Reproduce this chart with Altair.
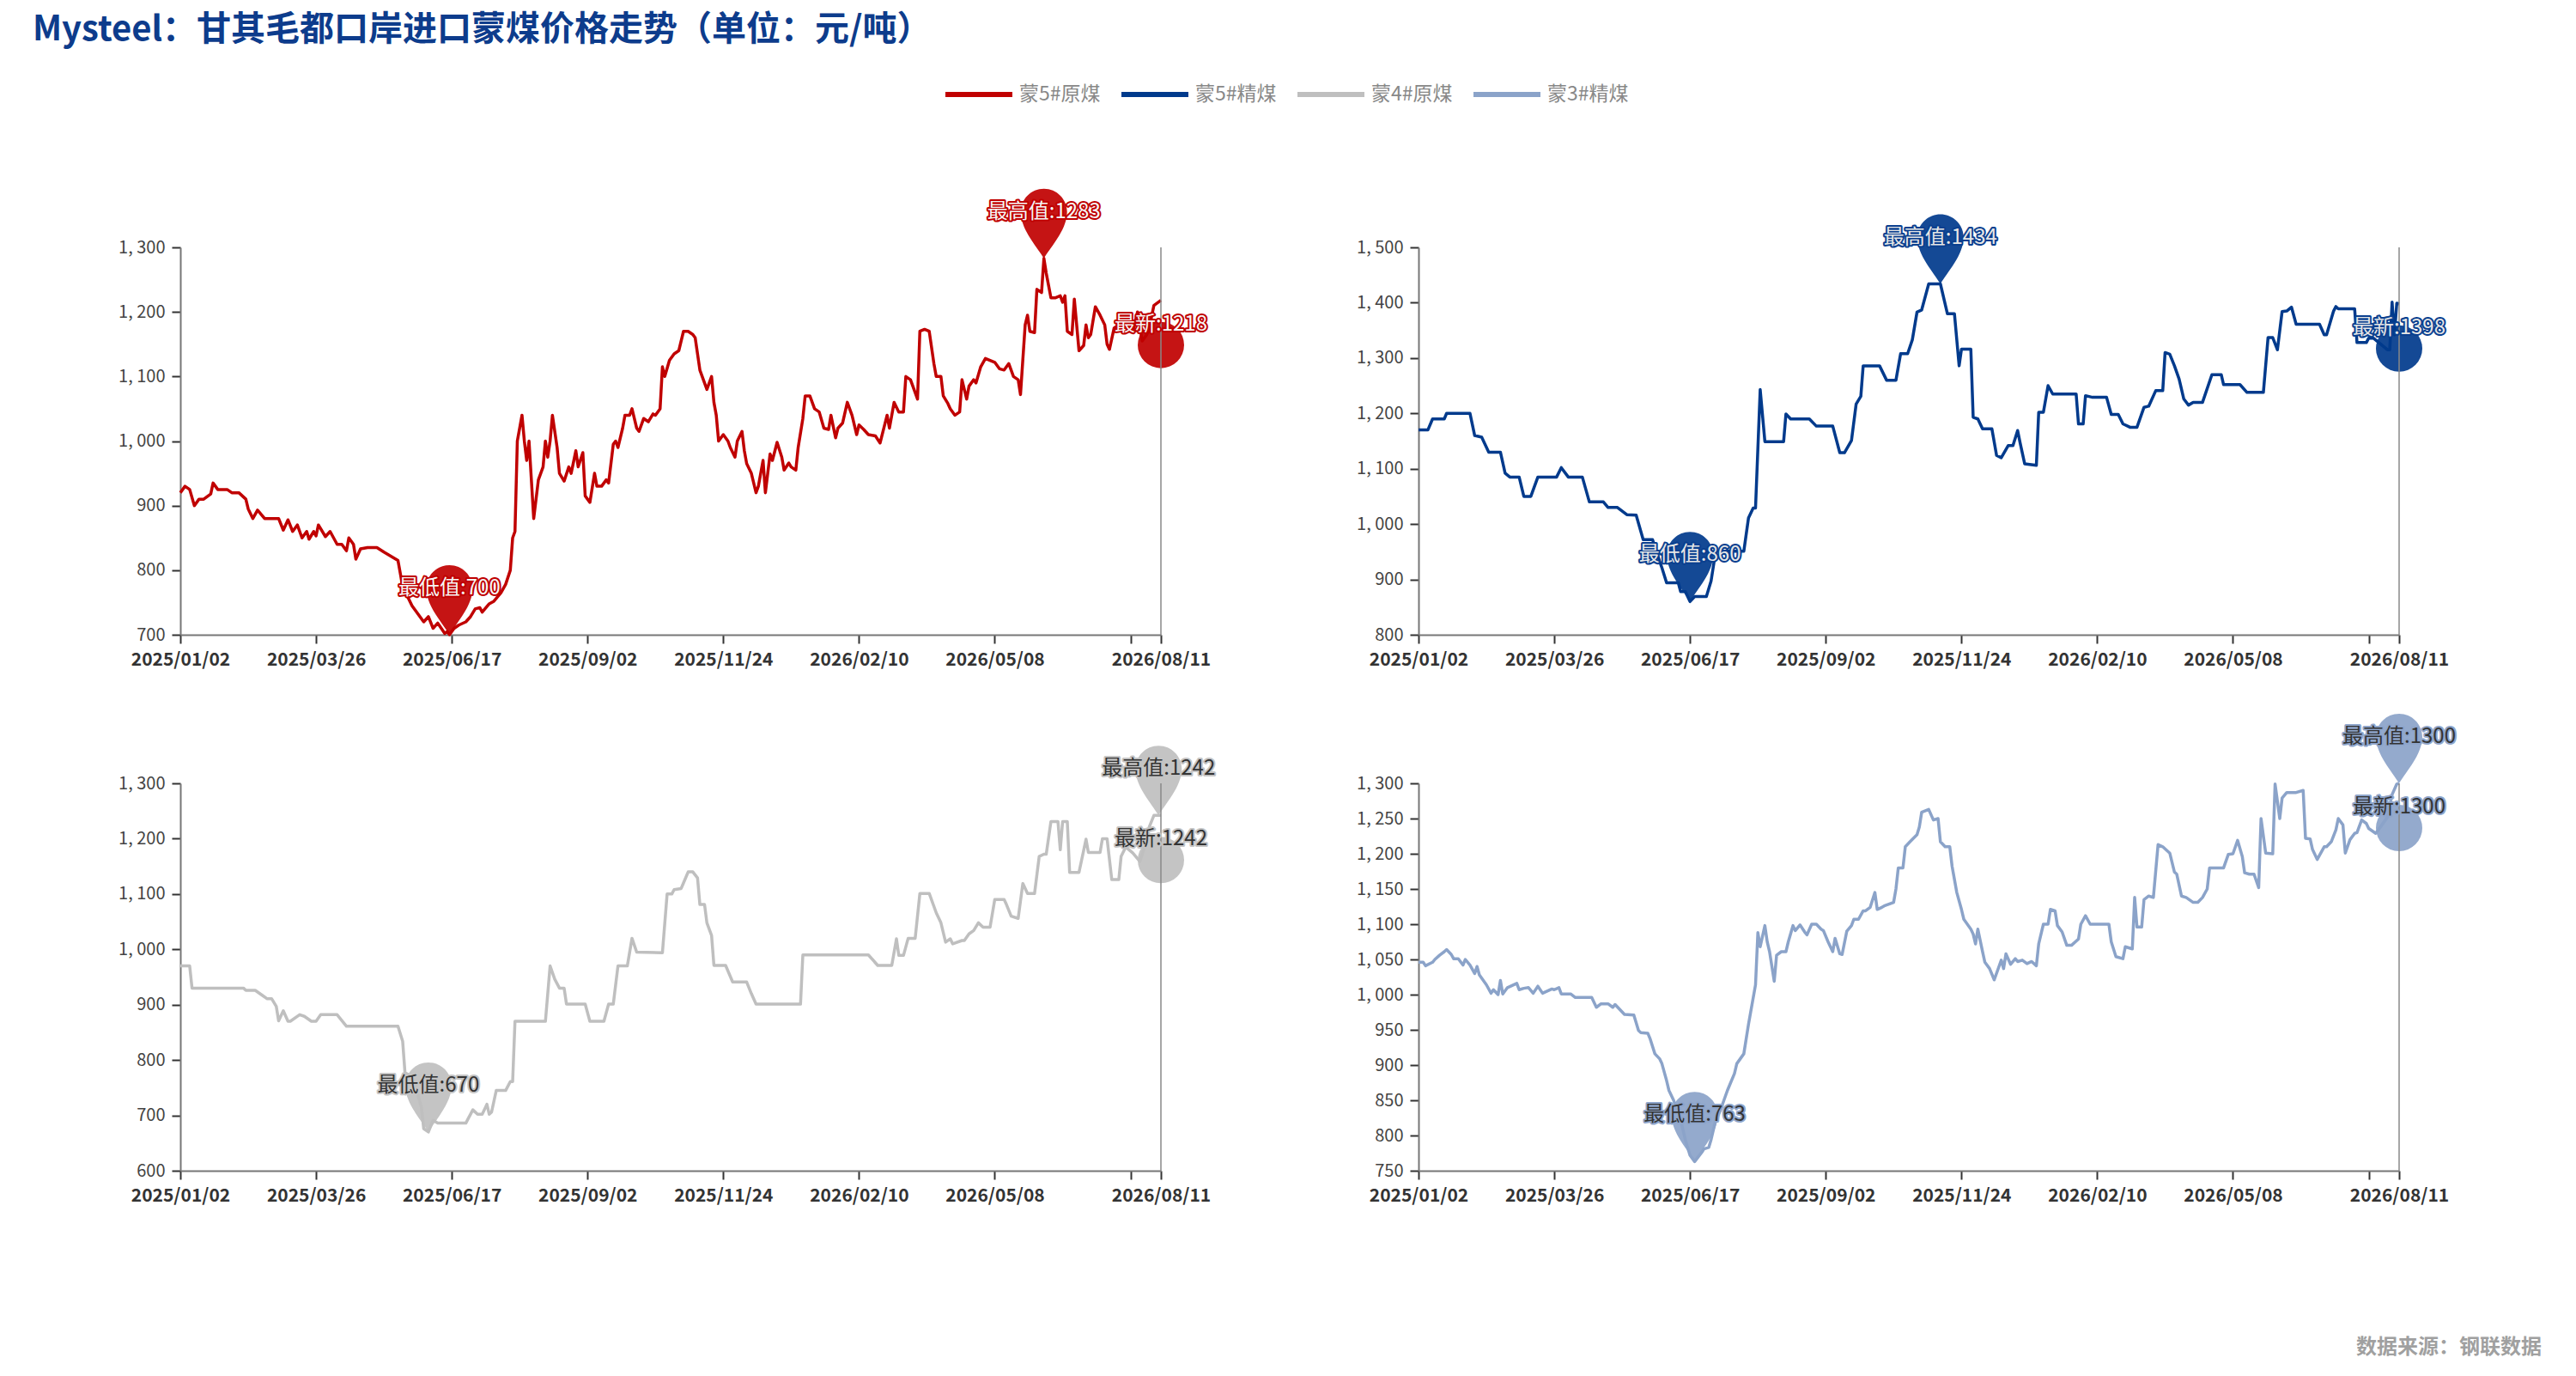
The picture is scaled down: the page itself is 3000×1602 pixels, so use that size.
import altair as alt
import pandas as pd

FONT = "Noto Sans CJK SC"

TITLE = "Mysteel：甘其毛都口岸进口蒙煤价格走势（单位：元/吨）"
FOOTER = "数据来源：钢联数据"

SERIES = ["蒙5#原煤", "蒙5#精煤", "蒙4#原煤", "蒙3#精煤"]
COLORS = ["#C00000", "#003A8C", "#BFBFBF", "#8BA3C9"]

X_END = 419
XTICK_IDX = [0, 58, 116, 174, 232, 290, 348, 406, 419]
XTICK_LABELS = ["2025/01/02", "2025/03/26", "2025/06/17", "2025/09/02", "2025/11/24",
                "2026/02/10", "2026/05/08", "", "2026/08/11"]

# (trading-day index, price)
P1 = [(0,920),(2,930),(4,925),(6,900),(8,910),(10,910),(13,918),(14,935),(16,925),(20,925),(22,920),(25,920),
      (28,910),(29,895),(31,880),(33,893),(36,880),(42,880),(44,862),(46,878),(48,860),(50,870),(52,850),(54,860),
      (55,848),(57,860),(58,853),(59,870),(62,852),(64,860),(67,840),(69,840),(71,830),(72,850),(74,840),(75,817),
      (77,833),(80,835),(84,835),(87,828),(93,815),(95,775),(97,760),(99,745),(101,735),(104,720),(106,728),(108,710),
      (110,718),(113,702),(114,705),(115,700),(117,710),(119,715),(122,720),(124,728),(126,740),(128,742),(129,735),
      (132,748),(134,752),(137,765),(139,778),(141,800),(142,850),(143,860),(144,1000),(146,1040),(147,1000),(148,970),
      (149,1000),(151,880),(153,940),(155,960),(156,1000),(157,975),(158,1000),(159,1040),(161,990),(162,950),(164,938),
      (166,960),(167,950),(169,985),(170,960),(172,982),(173,915),(175,905),(177,950),(178,930),(180,930),(182,940),
      (183,935),(185,995),(186,1000),(187,990),(189,1020),(190,1040),(192,1040),(193,1050),(195,1020),(196,1015),
      (198,1035),(200,1030),(202,1042),(203,1040),(205,1050),(206,1115),(207,1100),(209,1125),(211,1135),(213,1140),
      (215,1170),(217,1170),(219,1165),(220,1160),(222,1110),(224,1090),(225,1080),(227,1100),(228,1060),(229,1040),
      (230,1000),(232,1010),(234,1000),(235,990),(237,975),(238,1000),(240,1015),(241,985),(242,965),(244,950),
      (246,920),(247,930),(249,970),(250,920),(252,980),(253,970),(255,998),(257,975),(258,955),(260,966),(261,960),
      (263,955),(264,990),(266,1035),(267,1070),(269,1070),(271,1050),(273,1045),(275,1020),(277,1018),(278,1040),
      (280,1005),(281,1020),(283,1028),(285,1060),(287,1040),(289,1010),(290,1025),(292,1018),(294,1010),(297,1008),
      (299,997),(302,1040),(303,1020),(305,1060),(307,1045),(309,1045),(310,1100),(312,1095),(315,1065),(316,1170),
      (318,1173),(320,1170),(322,1120),(323,1100),(325,1100),(326,1070),(328,1058),(329,1050),(331,1040),(333,1045),
      (334,1095),(336,1065),(337,1085),(339,1095),(340,1090),(342,1115),(344,1128),(346,1125),(348,1122),(350,1112),
      (352,1110),(354,1120),(356,1100),(358,1095),(359,1072),(361,1180),(362,1195),(363,1170),(365,1168),(366,1235),
      (368,1230),(369,1283),(370,1260),(372,1222),(374,1222),(376,1225),(377,1215),(378,1225),(379,1170),(381,1165),
      (382,1220),(384,1140),(386,1148),(387,1180),(388,1160),(389,1165),(391,1208),(393,1195),(395,1180),(396,1150),
      (397,1142),(399,1175),(401,1180),(403,1190),(405,1195),(407,1170),(409,1200),(411,1155),(413,1165),(414,1175),
      (416,1210),(419,1218)]

P2 = [(0,1170),(4,1170),(6,1190),(11,1190),(12,1200),(22,1200),(24,1160),(27,1157),(30,1130),(35,1130),(37,1092),
      (39,1085),(43,1085),(45,1050),(48,1050),(51,1085),(59,1085),(61,1102),(64,1085),(70,1085),(73,1040),(79,1040),
      (81,1030),(85,1030),(89,1017),(93,1016),(96,972),(100,972),(103,933),(104,921),(106,894),(111,894),(112,878),
      (114,878),(116,860),(118,869),(123,869),(125,897),(127,951),(139,951),(141,1011),(143,1029),(144,1029),(146,1243),
      (148,1149),(156,1149),(157,1199),(159,1190),(167,1190),(170,1177),(177,1177),(180,1129),(182,1129),(185,1151),
      (187,1217),(189,1231),(190,1286),(197,1286),(200,1260),(204,1260),(206,1308),(209,1308),(211,1333),(213,1383),
      (215,1387),(218,1434),(223,1434),(226,1380),(229,1380),(231,1286),(232,1316),(236,1316),(237,1193),(239,1190),
      (241,1172),(245,1172),(247,1124),(249,1120),(252,1142),(254,1142),(256,1169),(257,1148),(259,1109),(264,1106),
      (265,1202),(267,1202),(269,1250),(271,1235),(281,1235),(282,1181),(284,1181),(285,1232),(288,1229),(294,1229),
      (296,1198),(299,1198),(301,1181),(304,1175),(307,1175),(310,1211),(312,1213),(315,1241),(318,1241),(319,1310),
      (321,1307),(323,1286),(325,1262),(327,1226),(329,1215),(331,1220),(335,1220),(339,1270),(343,1270),(344,1252),
      (351,1252),(354,1238),(361,1238),(363,1337),(365,1337),(367,1315),(369,1384),(371,1385),(373,1392),(375,1361),
      (385,1361),(387,1342),(388,1342),(391,1385),(392,1393),(393,1389),(400,1389),(401,1328),(405,1328),(406,1336),
      (408,1336),(414,1315),(415,1315),(416,1401),(417,1342),(418,1399),(419,1398)]

P3 = [(0,970),(4,970),(5,930),(27,930),(28,926),(32,926),(35,917),(37,911),(39,911),(41,897),(42,871),(44,889),
      (46,870),(47,870),(51,882),(53,879),(56,870),(58,870),(60,882),(67,882),(71,861),(93,861),(95,834),(96,777),
      (97,775),(100,760),(103,715),(104,676),(106,670),(108,691),(110,686),(122,686),(123,694),(125,710),(127,702),
      (129,702),(131,720),(132,702),(133,706),(135,745),(139,745),(141,761),(142,761),(143,870),(156,870),(158,970),
      (160,946),(162,930),(164,930),(165,901),(173,901),(175,870),(181,870),(183,901),(185,901),(187,970),(191,970),
      (193,1020),(195,995),(206,994),(208,1100),(210,1100),(211,1108),(214,1110),(215,1120),(217,1140),(219,1140),
      (221,1129),(222,1081),(224,1081),(225,1048),(227,1025),(228,971),(233,971),(236,941),(242,941),(244,920),
      (246,901),(265,901),(266,990),(294,990),(298,971),(304,971),(306,1019),(307,989),(309,989),(311,1020),(314,1020),
      (316,1101),(320,1101),(323,1066),(325,1048),(327,1013),(329,1019),(330,1010),(334,1016),(335,1016),(337,1028),
      (339,1034),(341,1048),(343,1040),(346,1040),(348,1090),(352,1090),(353,1081),(355,1060),(358,1056),(360,1119),
      (362,1101),(365,1101),(367,1168),(369,1172),(370,1172),(372,1231),(375,1231),(376,1180),(377,1231),(379,1231),
      (380,1139),(384,1139),(387,1199),(388,1175),(393,1175),(394,1200),(396,1200),(398,1126),(401,1126),(402,1168),
      (404,1185),(407,1174),(410,1159),(412,1185),(414,1221),(416,1242),(419,1242)]

P4 = [(0,1046),(2,1046),(3,1041),(6,1046),(7,1050),(9,1056),(11,1061),(12,1064),(14,1057),(15,1051),(17,1051),
      (19,1042),(20,1050),(22,1042),(24,1030),(25,1040),(26,1028),(29,1014),(31,1002),(32,1007),(34,1000),(35,1020),
      (36,1001),(38,1010),(40,1013),(42,1016),(43,1007),(45,1009),(47,1010),(49,1002),(51,1012),(53,1002),(57,1008),
      (58,1007),(60,1010),(61,1001),(65,1001),(67,996),(74,996),(76,982),(78,987),(81,987),(83,982),(84,986),(86,979),
      (88,972),(92,971),(94,949),(95,946),(98,945),(99,937),(101,916),(103,909),(104,902),(106,878),(107,864),
      (109,850),(112,822),(114,794),(116,772),(118,763),(121,776),(122,781),(124,783),(125,794),(127,822),(129,836),
      (132,864),(135,888),(136,902),(139,916),(141,958),(144,1014),(145,1088),(146,1068),(148,1098),(149,1075),
      (150,1061),(152,1019),(153,1056),(155,1061),(157,1061),(158,1075),(160,1098),(161,1091),(163,1099),(165,1089),
      (166,1085),(168,1100),(170,1100),(172,1093),(173,1091),(175,1075),(177,1061),(178,1080),(180,1058),(181,1057),
      (183,1090),(185,1098),(186,1107),(188,1107),(190,1119),(191,1119),(193,1124),(195,1145),(196,1121),(198,1124),
      (199,1126),(203,1131),(204,1150),(205,1180),(207,1180),(208,1210),(210,1217),(213,1227),(214,1238),(215,1259),
      (218,1263),(220,1248),(222,1250),(223,1217),(225,1210),(227,1210),(228,1182),(230,1145),(232,1121),(233,1107),
      (236,1093),(237,1086),(238,1072),(239,1093),(241,1061),(242,1046),(244,1037),(246,1021),(249,1049),(250,1037),
      (251,1058),(253,1043),(255,1051),(256,1047),(258,1049),(260,1044),(262,1047),(264,1041),(265,1072),(267,1100),
      (269,1100),(270,1121),(272,1119),(273,1098),(275,1089),(277,1070),(279,1070),(282,1079),(283,1100),(285,1112),
      (287,1100),(295,1100),(296,1075),(298,1054),(301,1051),(302,1068),(305,1065),(306,1138),(307,1096),(309,1096),
      (310,1135),(312,1140),(314,1138),(316,1213),(318,1210),(321,1201),(323,1174),(324,1171),(326,1140),(328,1138),
      (331,1131),(333,1131),(335,1138),(337,1150),(338,1180),(344,1180),(346,1199),(348,1200),(350,1219),(352,1196),
      (353,1173),(355,1171),(357,1171),(359,1152),(360,1250),(362,1201),(365,1200),(366,1299),(368,1250),(369,1279),
      (371,1287),(375,1287),(378,1290),(379,1222),(381,1221),(382,1206),(384,1192),(387,1210),(388,1210),(390,1217),
      (392,1234),(393,1250),(395,1241),(396,1201),(398,1220),(400,1229),(401,1230),(403,1248),(405,1243),(406,1236),
      (409,1229),(411,1238),(414,1252),(416,1284),(418,1299),(419,1300)]

# marker points: (index, value)
P1_MIN, P1_MAX, P1_LAST = (115, 700), (369, 1283), (419, 1218)
P2_MIN, P2_MAX, P2_LAST = (116, 860), (223, 1434), (419, 1398)
P3_MIN, P3_MAX, P3_LAST = (106, 670), (418, 1242), (419, 1242)
P4_MIN, P4_MAX, P4_LAST = (118, 763), (419, 1300), (419, 1300)

Y1 = (700, 1300, 100)
Y2 = (800, 1500, 100)
Y3 = (600, 1300, 100)
Y4 = (750, 1300, 50)

PIN = "M0,0 C-0.3,-0.5 -1,-1.25 -1,-2 A1,1 0 1 1 1,-2 C1,-1.25 0.3,-0.5 0,0 Z"

W, H = 1142, 451

x_expr = "".join(f"datum.value == {v} ? '{t}' : " for v, t in zip(XTICK_IDX, XTICK_LABELS)) + "''"
y_expr = "replace(format(datum.value, ','), ',', ', ')"

color_scale = alt.Scale(domain=SERIES, range=COLORS)
legend = alt.Legend(orient="none", legendX=888, legendY=-220, direction="horizontal", title=None,
                    symbolType="stroke", symbolSize=6084, symbolStrokeWidth=6,
                    labelFont=FONT, labelFontSize=23, labelColor="#888888", labelOffset=5,
                    columnPadding=12, padding=0)


def panel(pairs, name, color, ycfg, mn, mx, last, tfill, halo):
    lo, hi, step = ycfg
    df = pd.DataFrame(pairs, columns=["idx", "val"])
    df["series"] = name
    pins = pd.DataFrame({"idx": [mn[0], mx[0]], "val": [mn[1], mx[1]],
                         "label": [f"最低值:{mn[1]}", f"最高值:{mx[1]}"]})
    lat = pd.DataFrame({"idx": [last[0]], "val": [last[1]], "label": [f"最新:{last[1]}"]})

    x = alt.X("idx:Q", scale=alt.Scale(domain=[0, X_END], nice=False, zero=False),
              axis=alt.Axis(values=XTICK_IDX, labelExpr=x_expr, title=None, grid=False,
                            labelOverlap=False, labelFlush=False))
    y = alt.Y("val:Q", scale=alt.Scale(domain=[lo, hi], nice=False, zero=False),
              axis=alt.Axis(values=list(range(lo, hi + 1, step)), labelExpr=y_expr, title=None, grid=False))

    pin_m = alt.Chart(pins).mark_point(shape=PIN, size=2916, filled=True, opacity=0.92,
                                       color=color, strokeWidth=0).encode(x=x, y=y)
    circ = alt.Chart(lat).mark_point(shape="circle", size=2916, filled=True, opacity=0.92,
                                     color=color, strokeWidth=0, yOffset=52).encode(x=x, y=y)
    line = alt.Chart(df).mark_line(strokeWidth=3.5, strokeJoin="round").encode(
        x=x, y=y, color=alt.Color("series:N", scale=color_scale, legend=legend))
    rule = alt.Chart(lat).mark_rule(color="#888888", strokeWidth=1.5).encode(x=x)
    txt = dict(font=FONT, fontSize=24, baseline="middle", align="center")
    pin_h = alt.Chart(pins).mark_text(dy=-54, fill=halo, stroke=halo, strokeWidth=4,
                                      strokeJoin="round", **txt).encode(x=x, y=y, text="label:N")
    pin_t = alt.Chart(pins).mark_text(dy=-54, fill=tfill, **txt).encode(x=x, y=y, text="label:N")
    lat_h = alt.Chart(lat).mark_text(dy=28, fill=halo, stroke=halo, strokeWidth=4,
                                     strokeJoin="round", **txt).encode(x=x, y=y, text="label:N")
    lat_t = alt.Chart(lat).mark_text(dy=28, fill=tfill, **txt).encode(x=x, y=y, text="label:N")
    return alt.layer(pin_m, circ, line, rule, pin_h, pin_t, lat_h, lat_t).properties(width=W, height=H)


p1 = panel(P1, SERIES[0], COLORS[0], Y1, P1_MIN, P1_MAX, P1_LAST, "#F5F5F5", "#C00000")
p2 = panel(P2, SERIES[1], COLORS[1], Y2, P2_MIN, P2_MAX, P2_LAST, "#E6E6E6", "#0A3F8F")
p3 = panel(P3, SERIES[2], COLORS[2], Y3, P3_MIN, P3_MAX, P3_LAST, "#333333", "#C4C4C4")
p4 = panel(P4, SERIES[3], COLORS[3], Y4, P4_MIN, P4_MAX, P4_LAST, "#333333", "#8EA5CB")

grid = alt.concat(p1, p2, p3, p4, columns=2, spacing={"row": 173, "column": 300}, bounds="flush").properties(
    title=alt.TitleParams(text=FOOTER, orient="bottom", anchor="end", frame="bounds", font=FONT,
                          fontSize=24, fontWeight="bold", color="#A0A0A0", dx=100, offset=155)
)

chart = alt.vconcat(grid, bounds="flush").properties(
    title=alt.TitleParams(text=TITLE, anchor="start", frame="group", font=FONT, fontSize=40,
                          fontWeight="bold", color="#0D3C8C", dx=-172, offset=13),
    padding={"left": 30, "top": 7, "right": 5, "bottom": 5},
).configure_axis(
    domainColor="#777777", domainWidth=2, tickColor="#333333", tickWidth=2, tickSize=10,
    labelFont=FONT, labelFontSize=20, labelPadding=8,
).configure_axisX(labelColor="#333333", labelFontWeight="bold", labelFontSize=21).configure_axisY(
    labelColor="#444444"
).configure_view(strokeWidth=0)

chart.save("out.html", embed_options={"renderer": "svg", "actions": False})
